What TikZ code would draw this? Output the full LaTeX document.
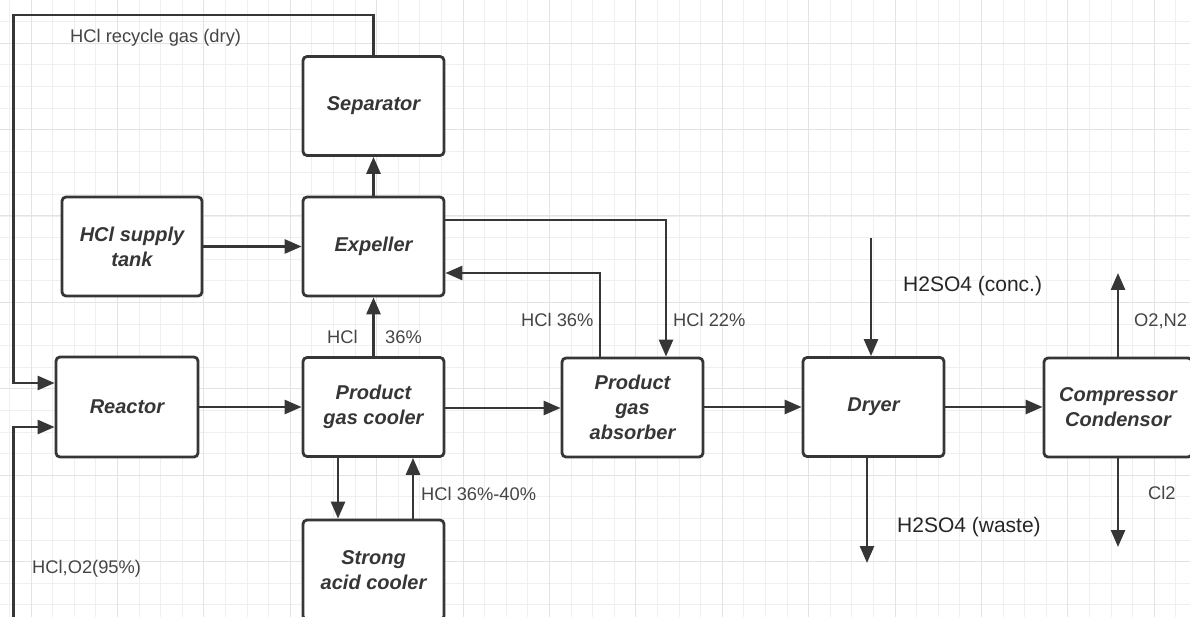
\documentclass[tikz,border=0pt]{standalone}
\usepackage{fontspec}
\setmainfont{Liberation Sans}
\usetikzlibrary{arrows.meta}
\definecolor{ink}{HTML}{363636}
\definecolor{gridminor}{HTML}{EFEFEF}
\definecolor{gridmajor}{HTML}{E3E3E3}
\definecolor{labelcol}{HTML}{454545}
\begin{document}
\begin{tikzpicture}[x=1pt,y=-1pt,
  proc/.style={draw=ink, line width=2.8pt, rounded corners=4pt, fill=white,
    minimum width=141pt, minimum height=99pt, align=center,
    font=\fontsize{20}{25}\selectfont\bfseries\itshape, text=ink, inner sep=2pt},
  flow/.style={draw=ink, line width=2.7pt, -{Triangle[length=17pt,width=14pt]}},
  lbl/.style={anchor=base west, inner sep=0pt, font=\fontsize{18.3}{20}\selectfont, text=labelcol},
  biglbl/.style={anchor=base west, inner sep=0pt, font=\fontsize{21}{24}\selectfont, text=black!85},
  gmin/.style={draw=gridminor, line width=0.8pt},
  gmaj/.style={draw=gridmajor, line width=1pt}]
\useasboundingbox (0,0) rectangle (1190,617);
\fill[white] (0,0) rectangle (1190,617);
% grid
\foreach \i in {0,...,54} \draw[gmin] ({9.4+21.6*\i},0) -- ({9.4+21.6*\i},617);
\foreach \j in {1,...,28} \draw[gmin] (0,{21.6*\j}) -- (1190,{21.6*\j});
\foreach \i in {0,...,13} \draw[gmaj] ({31+86.4*\i},0) -- ({31+86.4*\i},617);
\foreach \j in {0,...,6} \draw[gmaj] (0,{43.2+86.4*\j}) -- (1190,{43.2+86.4*\j});
% process boxes
\node[proc] (sep) at (373.5,106) {Separator};
\node[proc, minimum width=140pt] (tank) at (132,246.5) {HCl supply\\tank};
\node[proc] (exp) at (373.5,246.5) {Expeller};
\node[proc, minimum width=142pt, minimum height=100pt] (reac) at (127,407) {Reactor};
\node[proc] (pgc) at (373.5,407) {Product\\gas cooler};
\node[proc] (abs) at (632.5,407.5) {Product\\gas\\absorber};
\node[proc] (dry) at (873.5,407) {Dryer};
\node[proc, minimum width=148pt] (comp) at (1118,407.5) {Compressor\\Condensor};
\node[proc, minimum height=100pt] (sac) at (373.5,570) {Strong\\acid cooler};
% free ends
\coordinate (recTop) at (13.5,15);
\coordinate (feedStart) at (13.5,617);
\coordinate (acidIn) at (871,238);
\coordinate (acidOut) at (867,563);
\coordinate (gasOut) at (1118,273);
\coordinate (clOut) at (1118,547);
% connectors
\draw[flow] (sep.north) |- (recTop) |- (reac.west |- 0,383);
\draw[flow] (feedStart) |- (reac.west |- 0,427);
\draw[flow] (reac.east) -- (pgc.west);
\draw[flow] (pgc.east |- 0,408) -- (abs.west |- 0,408);
\draw[flow] (abs.east |- 0,407) -- (dry.west |- 0,407);
\draw[flow] (dry.east |- 0,407) -- (comp.west |- 0,407);
\draw[flow] (tank.east) -- (exp.west);
\draw[flow] (exp.north) -- (sep.south);
\draw[flow] (pgc.north) -- (exp.south);
\draw[flow] (exp.east |- 0,220) -| (abs.north -| 666,0);
\draw[flow] (abs.north -| 600,0) |- (exp.east |- 0,273);
\draw[flow] (pgc.south -| 338,0) -- (sac.north -| 338,0);
\draw[flow] (sac.north -| 413,0) -- (pgc.south -| 413,0);
\draw[flow] (acidIn) -- (dry.north -| acidIn);
\draw[flow] (dry.south -| acidOut) -- (acidOut);
\draw[flow] (comp.north) -- (gasOut);
\draw[flow] (comp.south) -- (clOut);
% labels
\node[lbl] (lrec) at (70,43) {HCl recycle gas (dry)};
\node[lbl] (lhcl) at (327,343) {HCl};
\node[lbl] (l36) at (385,343) {36\%};
\node[lbl] (lab36) at (521,326) {HCl 36\%};
\node[lbl] (lab22) at (673,326) {HCl 22\%};
\node[lbl] (lsac) at (421,500) {HCl 36\%-40\%};
\node[biglbl] (lconc) at (903,291.5) {H2SO4 (conc.)};
\node[biglbl] (lwaste) at (897,532.5) {H2SO4 (waste)};
\node[lbl] (lo2) at (1134,326) {O2,N2};
\node[lbl] (lcl) at (1148,499) {Cl2};
\node[lbl] (lfeed) at (32,573) {HCl,O2(95\%)};
\end{tikzpicture}
\end{document}
